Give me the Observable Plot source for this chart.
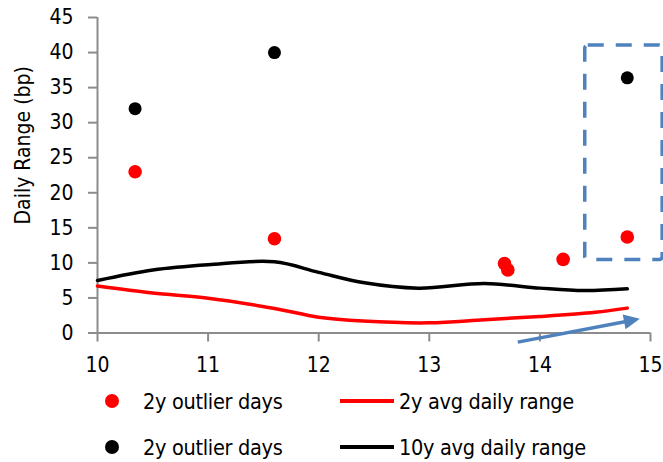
<!DOCTYPE html>
<html>
<head>
<meta charset="utf-8">
<script src="https://cdn.jsdelivr.net/npm/d3@7"></script>
<script src="https://cdn.jsdelivr.net/npm/@observablehq/plot@0.6"></script>
<style>
  html, body { margin: 0; padding: 0; background: #fff; }
  #wrap { position: relative; width: 663px; height: 462px; font-family: "Liberation Sans Narrow", "Arial Narrow", "DejaVu Sans Condensed", sans-serif; }
  #legend { position: relative; width: 663px; height: 84px; font-size: 21.5px; color: #000; }
  .item { position: absolute; display: flex; align-items: center; height: 30px; transform: translateY(-50%); white-space: nowrap; letter-spacing: -0.3px; }
  .dot { position: absolute; width: 14px; height: 14px; border-radius: 50%; transform: translate(-50%, -50%); }
  .swatch { position: absolute; height: 4px; transform: translateY(-50%); }
</style>
</head>
<body>
<div id="wrap">
  <div id="chart"></div>
  <div id="legend"></div>
</div>
<script>
// Axis ticks
const xTicks = [10, 11, 12, 13, 14, 15];
const yTicks = [0, 5, 10, 15, 20, 25, 30, 35, 40, 45];
const yLabel = "Daily Range (bp)";

// 2y outlier days (red)
const redX = [10.34, 11.60, 13.68, 13.71, 14.21, 14.79];
const redY = [23.0, 13.45, 9.9, 9.0, 10.5, 13.7];

// outlier days (black)
const blackX = [10.34, 11.60, 14.79];
const blackY = [32.0, 40.0, 36.4];

// 2y average daily range
const avg2yX = [10, 10.5, 11, 11.6, 12, 12.4, 13, 13.5, 14, 14.5, 14.79];
const avg2yY = [6.7, 5.7, 4.95, 3.5, 2.25, 1.7, 1.45, 1.9, 2.35, 2.95, 3.55];

// 10y average daily range
const avg10yX = [10, 10.5, 11, 11.6, 12, 12.4, 12.9, 13.5, 14, 14.4, 14.79];
const avg10yY = [7.5, 9.0, 9.75, 10.15, 8.65, 7.2, 6.4, 7.05, 6.4, 6.05, 6.3];

// Highlight box and trend arrow
const boxX = [14.41, 15.11];
const boxY = [10.4, 41.0];
const arrowFrom = [13.8, -1.3];
const arrowTo = [14.815, 1.75];

// Legend entries
const legendRows = [
  {dot: "#ff0000", dotLabel: "2y outlier days", line: "#ff0000", lineLabel: "2y avg daily range"},
  {dot: "#000000", dotLabel: "2y outlier days", line: "#000000", lineLabel: "10y avg daily range"}
];

const FONT = '"Liberation Sans Narrow", "Arial Narrow", "DejaVu Sans Condensed", sans-serif';
const AXIS = "#8c8c8c";
const BLUE = "#4f81bd";

const zip = (xs, ys) => xs.map((x, i) => ({x, y: ys[i]}));
const red = zip(redX, redY);
const black = zip(blackX, blackY);
const avg2y = zip(avg2yX, avg2yY);
const avg10y = zip(avg10yX, avg10yY);

// Filled triangular arrowhead
function filledHead(color) {
  const ns = "http://www.w3.org/2000/svg";
  const m = document.createElementNS(ns, "marker");
  m.setAttribute("viewBox", "-8 -9 20 18");
  m.setAttribute("markerWidth", 20);
  m.setAttribute("markerHeight", 18);
  m.setAttribute("markerUnits", "userSpaceOnUse");
  m.setAttribute("refX", 0);
  m.setAttribute("refY", 0);
  m.setAttribute("orient", "auto");
  const p = document.createElementNS(ns, "path");
  p.setAttribute("d", "M-6,-7.5L10,0L-6,7.5Z");
  p.setAttribute("fill", color);
  p.setAttribute("stroke", "none");
  m.appendChild(p);
  return m;
}

const chart = Plot.plot({
  width: 663,
  height: 378,
  marginLeft: 97,
  marginRight: 13,
  marginTop: 17,
  marginBottom: 45.5,
  style: {fontFamily: FONT, fontSize: "21px", color: "#000", background: "#fff", overflow: "visible"},
  x: {domain: [10, 15]},
  y: {domain: [0, 45]},
  marks: [
    Plot.axisY({ticks: yTicks, tickSize: 9, tickPadding: 15, stroke: AXIS, strokeWidth: 2, label: null, fontSize: 21, tickFormat: d3.format("d")}),
    Plot.axisX({ticks: xTicks, tickSize: 9, tickPadding: 15, stroke: AXIS, strokeWidth: 2, label: null, fontSize: 21, tickFormat: d3.format("d")}),
    Plot.ruleX([10], {stroke: AXIS, strokeWidth: 2}),
    Plot.ruleY([0], {stroke: AXIS, strokeWidth: 2}),
    Plot.text([yLabel], {frameAnchor: "left", textAnchor: "middle", dx: -74, dy: -30, rotate: -90, fontSize: 21, fill: "#000"}),
    Plot.line(avg10y, {x: "x", y: "y", stroke: "#000", strokeWidth: 3.5, curve: "catmull-rom"}),
    Plot.line(avg2y, {x: "x", y: "y", stroke: "#ff0000", strokeWidth: 3.5, curve: "catmull-rom"}),
    Plot.dot(red, {x: "x", y: "y", r: 6.8, fill: "#ff0000"}),
    Plot.dot(black, {x: "x", y: "y", r: 6.5, fill: "#000"}),
    Plot.rect([{}], {x1: boxX[0], x2: boxX[1], y1: boxY[0], y2: boxY[1], fill: "none", stroke: BLUE, strokeWidth: 3.5, strokeDasharray: "16,12", rx: 3}),
    Plot.link([{}], {x1: arrowFrom[0], y1: arrowFrom[1], x2: arrowTo[0], y2: arrowTo[1], stroke: BLUE, strokeWidth: 3.5, markerEnd: filledHead})
  ]
});
document.getElementById("chart").appendChild(chart);

// Legend below the plot
const legend = document.getElementById("legend");
const rowY = [23, 69];
legendRows.forEach((r, i) => {
  const y = rowY[i];
  const d = document.createElement("div");
  d.className = "dot";
  d.style.left = "112px"; d.style.top = y + "px"; d.style.background = r.dot;
  legend.appendChild(d);
  const t1 = document.createElement("div");
  t1.className = "item"; t1.style.left = "143px"; t1.style.top = y + "px"; t1.textContent = r.dotLabel;
  legend.appendChild(t1);
  const s = document.createElement("div");
  s.className = "swatch"; s.style.left = "340px"; s.style.width = "54px"; s.style.top = y + "px"; s.style.background = r.line;
  legend.appendChild(s);
  const t2 = document.createElement("div");
  t2.className = "item"; t2.style.left = "399px"; t2.style.top = y + "px"; t2.textContent = r.lineLabel;
  legend.appendChild(t2);
});
</script>
</body>
</html>
